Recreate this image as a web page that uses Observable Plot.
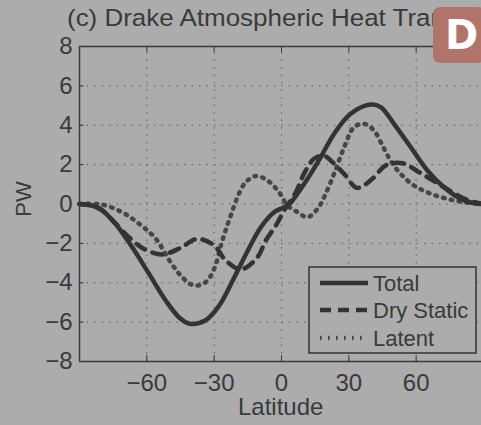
<!DOCTYPE html>
<html><head><meta charset="utf-8">
<script src="https://cdn.jsdelivr.net/npm/d3@7"></script>
<script src="https://cdn.jsdelivr.net/npm/@observablehq/plot@0.6"></script>
<style>
html,body{margin:0;padding:0;background:#acacac;overflow:hidden}
#wrap{position:relative;width:481px;height:425px;overflow:hidden;font-family:"Liberation Sans",Arial,Helvetica,sans-serif;color:#3a3a3a}
#chart{position:absolute;left:0;top:0}
#over{position:absolute;left:0;top:0}
#badge{position:absolute;left:433px;top:7px;width:52px;height:56px;border-radius:7px;background:#b07468;color:#fff;font-family:"DejaVu Sans","Liberation Sans",sans-serif;font-weight:bold;font-size:40px;line-height:56px;text-align:left;padding-left:12px;box-sizing:border-box}
</style></head><body>
<div id="wrap">
<div id="chart"></div>
<svg id="over" width="481" height="425"></svg>
<div id="badge">D</div>
</div>
<script>
const titleText = "(c) Drake Atmospheric Heat Transport";
const xLabel = "Latitude";
const yLabel = "PW";
const seriesNames = ["Total", "Dry Static", "Latent"];
const xTicks = [-60, -30, 0, 30, 60];
const yTicks = [-8, -6, -4, -2, 0, 2, 4, 6, 8];

const totalLat = [-90,-85,-81,-74,-66.5,-59,-51.6,-45.7,-41,-34,-28,-21,-15,-9.2,-3.3,1.2,4,7.1,13,17.5,23.4,30.8,39.7,44.2,50.1,57.6,65,72.4,79.8,86,90];
const totalPW  = [0,-0.06,-0.23,-1.0,-2.2,-3.55,-4.9,-5.75,-6.08,-5.92,-5.2,-3.72,-2.36,-1.18,-0.42,-0.16,0.05,0.52,1.53,2.38,3.56,4.58,5.05,4.92,4.07,2.88,1.7,0.85,0.26,0.03,0];

const dryLat = [-90,-85,-79.8,-73.9,-68,-61.3,-53.1,-45,-37.6,-30.1,-24.8,-18,-10.7,-7,-2.5,1.2,6.4,10,14.5,19,22,27.9,33.8,40.5,46.4,53.9,61.2,68.7,76.1,83,90];
const dryPW  = [0,-0.08,-0.33,-1.0,-1.69,-2.28,-2.56,-2.23,-1.77,-2.1,-2.87,-3.32,-2.7,-1.85,-1.09,-0.33,0.6,1.53,2.3,2.45,2.2,1.53,0.82,1.28,1.96,2.07,1.62,1.11,0.6,0.2,0];

const latentLat = [-90,-80,-71,-63.5,-56,-49.4,-44.2,-39,-33.8,-30,-27,-24.8,-22.5,-19.6,-16,-11.4,-6.2,-1.1,2.7,7.1,11.6,16,19,23.4,27.9,32.3,36.8,41.2,45,48.6,53.1,59,66.5,73.9,81.3,90];
const latentPW  = [0,-0.03,-0.42,-1.0,-1.77,-2.96,-3.72,-4.14,-3.97,-3.3,-2.1,-1.3,-0.55,0.35,1.1,1.42,1.19,0.6,-0.08,-0.41,-0.67,-0.25,0.35,1.53,2.88,3.9,4.07,3.73,2.97,2.2,1.53,0.94,0.52,0.26,0.09,0];

const toRows = (lat, pw) => lat.map((l, i) => ({lat: l, pw: pw[i]}));
const total = toRows(totalLat, totalPW);
const dry = toRows(dryLat, dryPW);
const latent = toRows(latentLat, latentPW);

const ink = "#333";
const dotInk = "#474747";
const gridCol = "#5e5e5e";
const innerY = yTicks.slice(1, -1);

const chart = Plot.plot({
  width: 481, height: 425,
  marginTop: 46, marginBottom: 64, marginLeft: 79, marginRight: 0,
  style: {background: "transparent", fontFamily: '"Liberation Sans", Arial, sans-serif', fontSize: "24px", color: "#3a3a3a"},
  x: {domain: [-90, 90], range: [79, 483], label: null},
  y: {domain: [-8, 8], range: [361, 46], label: null},
  marks: [
    Plot.ruleY(innerY, {stroke: gridCol, strokeWidth: 1, strokeDasharray: "1.5,6"}),
    Plot.ruleX(xTicks, {y1: -8, y2: 8, stroke: gridCol, strokeWidth: 1, strokeDasharray: "1.5,6"}),
    Plot.ruleX(xTicks, {y1: -8, y2: -7.7, stroke: ink, strokeWidth: 1}),
    Plot.ruleX(xTicks, {y1: 8, y2: 7.7, stroke: ink, strokeWidth: 1}),
    Plot.ruleY(innerY, {x1: -90, x2: -88, stroke: ink, strokeWidth: 1}),
    Plot.line(latent, {x: "lat", y: "pw", curve: "catmull-rom", stroke: dotInk, strokeWidth: 4.5, strokeDasharray: "1.6,6.4"}),
    Plot.line(dry, {x: "lat", y: "pw", curve: "catmull-rom", stroke: ink, strokeWidth: 4.5, strokeDasharray: "10,8"}),
    Plot.line(total, {x: "lat", y: "pw", curve: "catmull-rom", stroke: ink, strokeWidth: 4.5}),
    Plot.ruleY([-8, 8], {x1: -90, x2: 90, stroke: "#3a3a3a", strokeWidth: 1.5}),
    Plot.ruleX([-90, 90], {y1: -8, y2: 8, stroke: "#3a3a3a", strokeWidth: 1.5}),
    Plot.axisY({ticks: yTicks, tickSize: 0, tickPadding: 7, fontSize: 24, label: null}),
    Plot.axisX({ticks: xTicks, tickSize: 0, tickPadding: 12, fontSize: 24, label: null})
  ]
});
document.getElementById("chart").appendChild(chart);

// overlay: title, axis labels, legend
const svg = d3.select("#over");
const ff = '"Liberation Sans", Arial, sans-serif';
svg.append("text").attr("transform", "translate(67,26) scale(1.06,1)").attr("font-family", ff).attr("font-size", 24.5).attr("fill", "#3a3a3a").text(titleText);
svg.append("text").attr("x", 280.7).attr("y", 415).attr("text-anchor", "middle").attr("font-family", ff).attr("font-size", 24).attr("fill", "#3a3a3a").text(xLabel);
svg.append("text").attr("transform", "translate(31,199) rotate(-90)").attr("text-anchor", "middle").attr("font-family", ff).attr("font-size", 22).attr("fill", "#3a3a3a").text(yLabel);

const lg = svg.append("g");
lg.append("rect").attr("x", 309).attr("y", 267).attr("width", 167).attr("height", 86).attr("fill", "#acacac").attr("stroke", "#333").attr("stroke-width", 1.5);
const styles = [
  {dash: null, w: 4.5, c: ink},
  {dash: "11,7", w: 4.5, c: ink},
  {dash: "1.6,6.4", w: 4.5, c: dotInk}
];
const rowY = [283, 310, 338];
seriesNames.forEach((name, i) => {
  const l = lg.append("line").attr("x1", 320).attr("x2", 368).attr("y1", rowY[i]).attr("y2", rowY[i])
    .attr("stroke", styles[i].c).attr("stroke-width", styles[i].w);
  if (styles[i].dash) l.attr("stroke-dasharray", styles[i].dash);
  lg.append("text").attr("x", 373).attr("y", rowY[i] + 8).attr("font-family", ff).attr("font-size", 22).attr("fill", "#3a3a3a").text(name);
});
</script>
</body></html>
